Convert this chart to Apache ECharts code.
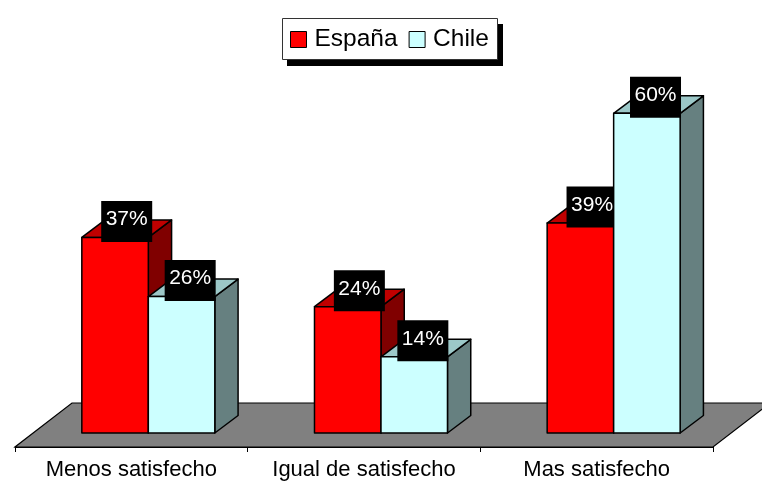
<!DOCTYPE html>
<html>
<head>
<meta charset="utf-8">
<style>html,body{margin:0;padding:0;background:#fff}#c{width:762px;height:482px}</style>
<script src="https://cdn.jsdelivr.net/npm/echarts@6/dist/echarts.min.js"></script>
</head>
<body>
<div id="c"></div>
<script>
var categories = ['Menos satisfecho', 'Igual de satisfecho', 'Mas satisfecho'];
var espana = [36.7, 23.7, 39.4];
var chile = [25.6, 14.3, 60.0];
var FONT = '"Liberation Sans", Arial, sans-serif';
var AXIS_DROP = 14;

function bar3d(slot, front, top, side) {
  return function (params, api) {
    var p = api.coord([api.value(0), api.value(1)]);
    var base = api.coord([api.value(0), 0]);
    var band = api.size([1, 0])[0];
    var w = band * 0.2858;
    var dx = band * 0.1, dy = 17.5;
    var shift = dx * 0.73;
    var x0 = p[0] + shift + (slot === 0 ? -w : 0);
    var x1 = x0 + w;
    var st = { stroke: '#000', lineWidth: 1.5, lineJoin: 'round' };
    function poly(points, fill) {
      return { type: 'polygon', shape: { points: points }, style: Object.assign({ fill: fill }, st) };
    }
    var cx = (x0 + x1) / 2 + dx * (slot === 0 ? 0.5 : 0.37);
    var cy = p[1] - 16;
    return {
      type: 'group',
      children: [
        poly([[x1, p[1]], [x1 + dx, p[1] - dy], [x1 + dx, base[1] - dy], [x1, base[1]]], side),
        poly([[x0, p[1]], [x0 + dx, p[1] - dy], [x1 + dx, p[1] - dy], [x1, p[1]]], top),
        poly([[x0, p[1]], [x1, p[1]], [x1, base[1]], [x0, base[1]]], front),
        { type: 'rect', z2: 100, shape: { x: cx - 25.5, y: cy - 20.5, width: 51, height: 41 }, style: { fill: '#000' } },
        { type: 'text', z2: 101, style: {
            x: cx, y: cy - 2, text: Math.round(api.value(1)) + '%', fill: '#fff',
            font: '21px ' + FONT, align: 'center', verticalAlign: 'middle' } }
      ]
    };
  };
}

function floor(params, api) {
  var band = api.size([1, 0])[0];
  var o = api.coord([0, 0]);
  var left = o[0] - band / 2;
  var right = left + band * categories.length;
  var yF = o[1] + AXIS_DROP;
  var depth = 44, dx = depth * 1.295;
  return {
    type: 'polygon',
    shape: { points: [[left, yF], [right, yF], [right + dx, yF - depth], [left + dx, yF - depth]] },
    style: { fill: '#808080', stroke: '#000', lineWidth: 1.2 }
  };
}

function rows(values) { return values.map(function (v, i) { return [i, v]; }); }

var chart = echarts.init(document.getElementById('c'), null, { renderer: 'canvas' });
chart.setOption({
  animation: false,
  backgroundColor: '#fff',
  grid: { left: 15, right: 49, top: 60, bottom: 49 },
  graphic: [
    { type: 'rect', z: 5, silent: true, shape: { x: 287, y: 24, width: 216, height: 42 }, style: { fill: '#000' } },
    { type: 'rect', z: 6, silent: true, shape: { x: 282.5, y: 18.5, width: 215, height: 41 }, style: { fill: '#fff', stroke: '#333', lineWidth: 1 } }
  ],
  legend: {
    data: ['España', 'Chile'],
    left: 282, top: 20,
    z: 10,
    orient: 'horizontal',
    padding: [7, 9, 7, 8],
    itemWidth: 16, itemHeight: 16, itemGap: 11,
    icon: 'rect',
    itemStyle: { borderColor: '#000', borderWidth: 1 },
    textStyle: { fontFamily: FONT, fontSize: 24.5, color: '#000', padding: [0, 0, 0, 3] }
  },
  xAxis: {
    type: 'category', data: categories, offset: AXIS_DROP,
    axisLine: { show: true, onZero: false, lineStyle: { color: '#000', width: 1 } },
    axisTick: { show: true, length: 5, alignWithLabel: false, lineStyle: { color: '#000' } },
    axisLabel: { fontFamily: FONT, fontSize: 22, color: '#000', margin: 12, interval: 0 }
  },
  yAxis: { type: 'value', min: 0, max: 70, show: false, splitLine: { show: false } },
  series: [
    { type: 'custom', name: 'floor', z: 1, clip: false, silent: true, data: [[0, 0]], encode: { x: 0, y: 1 }, renderItem: floor },
    { type: 'custom', name: 'España', z: 2, clip: false, data: rows(espana), encode: { x: 0, y: 1 }, itemStyle: { color: '#FF0000' }, renderItem: bar3d(0, '#FF0000', '#C00000', '#800000') },
    { type: 'custom', name: 'Chile', z: 3, clip: false, data: rows(chile), encode: { x: 0, y: 1 }, itemStyle: { color: '#CCFFFF' }, renderItem: bar3d(1, '#CCFFFF', '#9CC8C8', '#668080') }
  ]
});
</script>
</body>
</html>
